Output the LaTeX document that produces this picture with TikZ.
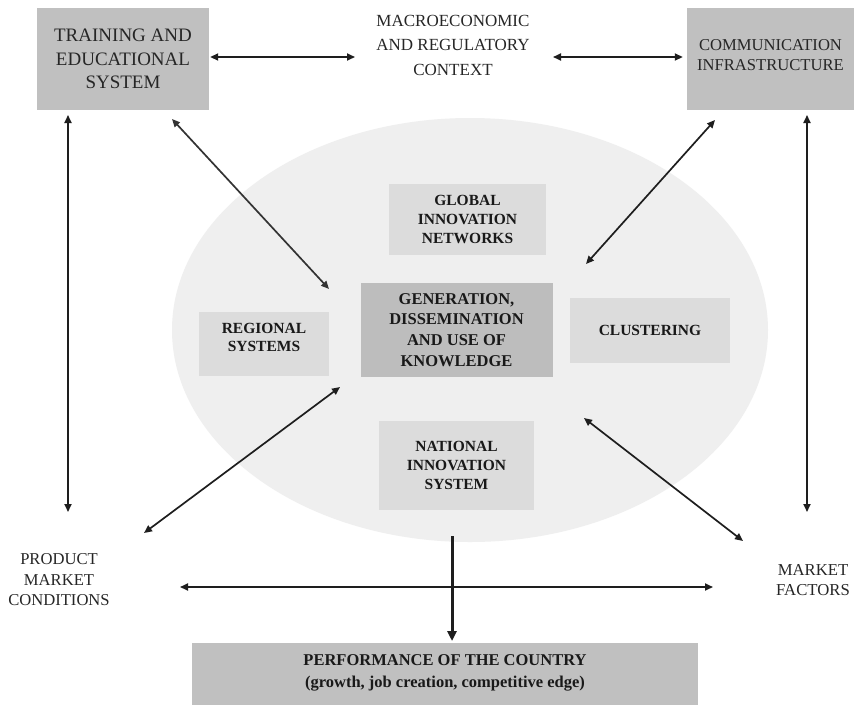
\documentclass[tikz,border=0pt]{standalone}
\usepackage{fontspec}
\setmainfont{Liberation Serif}
\usetikzlibrary{arrows.meta,shapes.geometric}
\definecolor{boxgray}{HTML}{C0C0C0}
\definecolor{innergray}{HTML}{DCDCDC}
\definecolor{centergray}{HTML}{BDBDBD}
\definecolor{ellgray}{HTML}{EFEFEF}
\definecolor{linecol}{HTML}{1E1E1E}
\newcommand{\liftup}[2]{\raisebox{#1}[\height][\depth]{\begin{tabular}{@{}c@{}}#2\end{tabular}}}
\begin{document}
\begin{tikzpicture}[x=1pt,y=-1pt,
  topbox/.style={fill=boxgray, draw=none, inner sep=0pt, align=center, text=black!85},
  innerbox/.style={fill=innergray, draw=none, inner sep=0pt, align=center, text=black!90,
    font=\fontsize{15.5}{19}\selectfont\bfseries},
  plain/.style={inner sep=0pt, align=center, text=black!85},
  dbl/.style={draw=linecol, line width=1.7pt, {Triangle[length=8pt,width=7pt]}-{Triangle[length=8pt,width=7pt]}},
  thick arr/.style={draw=linecol, line width=3pt, -{Triangle[length=10pt,width=9pt]}}
]
\useasboundingbox (0,0) rectangle (854,705);
\fill[white] (0,0) rectangle (854,705);

% ellipse
\node[ellipse, fill=ellgray, draw=none, minimum width=596pt, minimum height=424pt, inner sep=0pt] (ell) at (470,330) {};

% top boxes
\node[topbox, minimum width=172pt, minimum height=102pt, font=\fontsize{19}{23.5}\selectfont] (train) at (123,59) {TRAINING AND\\EDUCATIONAL\\SYSTEM};
\node[topbox, minimum width=167pt, minimum height=102pt, font=\fontsize{16.6}{22}\selectfont] (comm) at (770.5,59) {\liftup{3pt}{COMMUNICATION\\[-2pt]INFRASTRUCTURE}};
\node[plain, font=\fontsize{17}{24.5}\selectfont] (macro) at (453,45) {MACROECONOMIC\\AND REGULATORY\\CONTEXT};

% inner boxes
\node[innerbox, minimum width=157pt, minimum height=71pt] (global) at (467.5,219.5) {GLOBAL\\INNOVATION\\NETWORKS};
\node[fill=centergray, inner sep=0pt, align=center, text=black!90, minimum width=192pt, minimum height=94pt,
  font=\fontsize{16.5}{20.7}\selectfont\bfseries] (gen) at (456.5,330) {GENERATION,\\DISSEMINATION\\AND USE OF\\KNOWLEDGE};
\node[innerbox, minimum width=130pt, minimum height=64pt] (regional) at (264,344) {\liftup{5pt}{REGIONAL\\[-1pt]SYSTEMS}};
\node[innerbox, minimum width=160pt, minimum height=65pt] (cluster) at (650,330.5) {CLUSTERING};
\node[innerbox, minimum width=155pt, minimum height=89pt] (national) at (456.5,465.5) {NATIONAL\\INNOVATION\\SYSTEM};

% side texts
\node[plain, font=\fontsize{16.6}{20.5}\selectfont] (product) at (59,580) {PRODUCT\\MARKET\\CONDITIONS};
\node[plain, font=\fontsize{16.7}{20.5}\selectfont] (mfactors) at (813,580) {MARKET\\FACTORS};

% bottom box
\node[topbox, minimum width=506pt, minimum height=62pt, font=\fontsize{16.5}{22}\selectfont\bfseries, text=black!90] (perf) at (445,674) {\liftup{2pt}{PERFORMANCE OF THE COUNTRY\\(growth, job creation, competitive edge)}};

% connector end points
\coordinate (m1) at (355,57);
\coordinate (m2) at (553,57);
\coordinate (lv1) at (68,115);
\coordinate (lv2) at (68,512);
\coordinate (rv1) at (807,115);
\coordinate (rv2) at (807,512);
\coordinate (d1a) at (172,119);
\coordinate (d1b) at (329,289);
\coordinate (d2a) at (715,120);
\coordinate (d2b) at (586,264);
\coordinate (d3a) at (340,387);
\coordinate (d3b) at (144,533);
\coordinate (d4a) at (584,418);
\coordinate (d4b) at (743,541);
\coordinate (h1) at (180,587);
\coordinate (h2) at (713,587);
\coordinate (va) at (452,536);
\coordinate (vb) at (452,641);

% connectors
\draw[dbl] ([shift={(1pt,2pt)}]train.east) -- (m1);
\draw[dbl] (m2) -- ([shift={(-4pt,2pt)}]comm.west);
\draw[dbl] (lv1) -- (lv2);
\draw[dbl] (rv1) -- (rv2);
\draw[dbl, draw=black!80] (d1a) -- (d1b);
\draw[dbl] (d2a) -- (d2b);
\draw[dbl] (d3a) -- (d3b);
\draw[dbl] (d4a) -- (d4b);
\draw[dbl] (h1) -- (h2);
\draw[thick arr] (va) -- (vb);
\end{tikzpicture}
\end{document}
